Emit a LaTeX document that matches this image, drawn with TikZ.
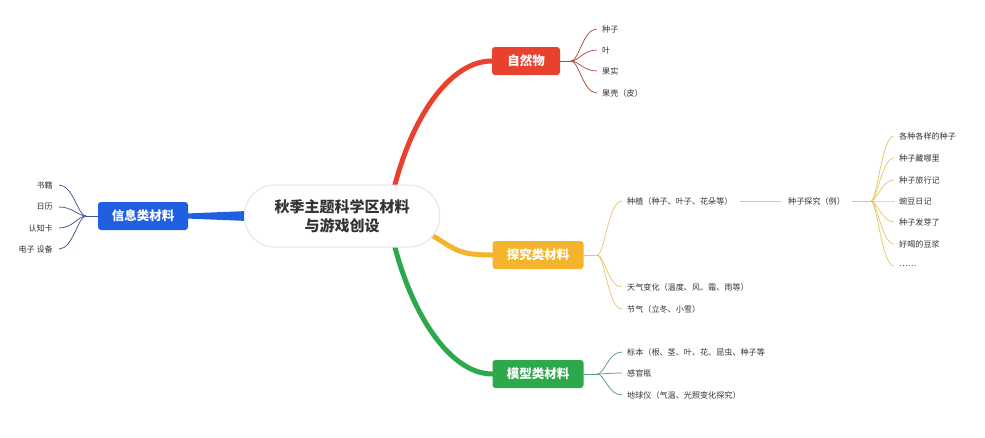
\documentclass[tikz,border=0pt]{standalone}
\usepackage{fontspec}
\setmainfont{Noto Sans CJK SC}
\usetikzlibrary{backgrounds,calc}
\definecolor{cred}{HTML}{E8412E}
\definecolor{cyel}{HTML}{F4B42E}
\definecolor{cgrn}{HTML}{2DA84A}
\definecolor{cblu}{HTML}{1F5FE0}
\definecolor{fred}{HTML}{A9503F}
\definecolor{fyel}{HTML}{E6C86A}
\definecolor{fgrn}{HTML}{5E9A80}
\definecolor{fblu}{HTML}{3F5A8E}
\definecolor{ltxt}{HTML}{333333}
\tikzset{
  catbox/.style={rounded corners=3pt, text=white, font=\bfseries\fontsize{12.5}{14}\selectfont, minimum height=28pt, inner xsep=6pt},
  leaf/.style={anchor=west, font=\fontsize{8.1}{9.5}\selectfont, text=ltxt, inner sep=2pt},
  leafr/.style={anchor=east, font=\fontsize{8.1}{9.5}\selectfont, text=ltxt, inner sep=2pt},
  fan/.style={line width=0.75pt},
  trunk/.style={line width=5pt, line cap=round},
}
\begin{document}
\begin{tikzpicture}[x=1pt,y=-1pt]
\useasboundingbox (0,0) rectangle (985,437);

% central
\node[draw=black!10, line width=1pt, fill=white, rounded corners=30pt, minimum width=195pt, minimum height=62pt, align=center,
      font=\bfseries\fontsize{15}{19}\selectfont, text=black!80] (c) at (342,216) {秋季主题科学区材料\\与游戏创设};

% category boxes
\node[catbox, fill=cred, minimum width=68pt] (r) at (526,61) {自然物};
\node[catbox, fill=cyel, minimum width=91pt] (y) at (538,255) {探究类材料};
\node[catbox, fill=cgrn, minimum width=91pt] (g) at (538,374) {模型类材料};
\node[catbox, fill=cblu, minimum width=90pt] (b) at (143,216) {信息类材料};

% trunks
\begin{scope}[on background layer]
\fill[white] (0,0) rectangle (985,437);
\draw[trunk, cred] ($(c.north)+(51,8)$) .. controls +(18,-75) and +(-42,0) .. (r.west);
\draw[trunk, cyel] ($(c.east)+(-10,18)$) .. controls +(25,15) and +(-35,0) .. (y.west);
\draw[trunk, cgrn] ($(c.south)+(51,-8)$) .. controls +(18,75) and +(-42,0) .. (g.west);
\fill[cblu] ($(b.east)+(-2,-2.5)$) -- ($(c.west)+(4,-5)$) -- ($(c.west)+(4,5)$) -- ($(b.east)+(-2,2.5)$) -- cycle;
\end{scope}

% red leaves
\coordinate (rh) at (571,61);
\node[leaf] (r1) at (600,29) {种子};
\node[leaf] (r2) at (600,50) {叶};
\node[leaf] (r3) at (600,71) {果实};
\node[leaf] (r4) at (600,93) {果壳（皮）};
\draw[fan, fred] (r.east) -- (rh);
\foreach \k in {r1,r2,r3,r4}
  \draw[fan, fred] (rh) .. controls +(8,0) and +(-14,0) .. ($(\k.west)+(-3,0)$);

% yellow leaves
\coordinate (yh) at (597,255);
\node[leaf] (y1) at (625,201) {种植（种子、叶子、花朵等）};
\node[leaf] (y2) at (625,287) {天气变化（温度、风、霜、雨等）};
\node[leaf] (y3) at (625,309) {节气（立冬、小雪）};
\draw[fan, fyel] (y.east) -- (yh);
\foreach \k in {y1,y2,y3}
  \draw[fan, fyel] (yh) .. controls +(8,0) and +(-14,0) .. ($(\k.west)+(-3,0)$);

\node[leaf] (s) at (786,201) {种子探究（例）};
\draw[fan, fyel] ($(y1.east)+(5,0)$) -- ($(s.west)+(-5,0)$);
\coordinate (sh) at (871,201);
\draw[fan, fyel] ($(s.east)+(5,0)$) -- (sh);
\node[leaf] (s1) at (897,136) {各种各样的种子};
\node[leaf] (s2) at (897,158) {种子藏哪里};
\node[leaf] (s3) at (897,180) {种子旅行记};
\node[leaf] (s4) at (897,201) {豌豆日记};
\node[leaf] (s5) at (897,222) {种子发芽了};
\node[leaf] (s6) at (897,244) {好喝的豆浆};
\node[leaf] (s7) at (897,266) {……};
\foreach \k in {s1,s2,s3,s4,s5,s6,s7}
  \draw[fan, fyel] (sh) .. controls +(6,0) and +(-12,0) .. ($(\k.west)+(-3,0)$);

% green leaves
\coordinate (gh) at (597,374);
\node[leaf] (g1) at (625,352) {标本（根、茎、叶、花、昆虫、种子等};
\node[leaf] (g2) at (625,373) {感官瓶};
\node[leaf] (g3) at (625,395) {地球仪（气温、光照变化探究）};
\draw[fan, fgrn] (g.east) -- (gh);
\foreach \k in {g1,g2,g3}
  \draw[fan, fgrn] (gh) .. controls +(8,0) and +(-14,0) .. ($(\k.west)+(-3,0)$);

% blue leaves
\coordinate (bh) at (86,216);
\node[leafr] (b1) at (55,185) {书籍};
\node[leafr] (b2) at (55,207) {日历};
\node[leafr] (b3) at (55,228) {认知卡};
\node[leafr] (b4) at (55,249) {电子 设备};
\draw[fan, fblu] (b.west) -- (bh);
\foreach \k in {b1,b2,b3,b4}
  \draw[fan, fblu] (bh) .. controls +(-8,0) and +(14,0) .. ($(\k.east)+(4,0)$);
\end{tikzpicture}
\end{document}
